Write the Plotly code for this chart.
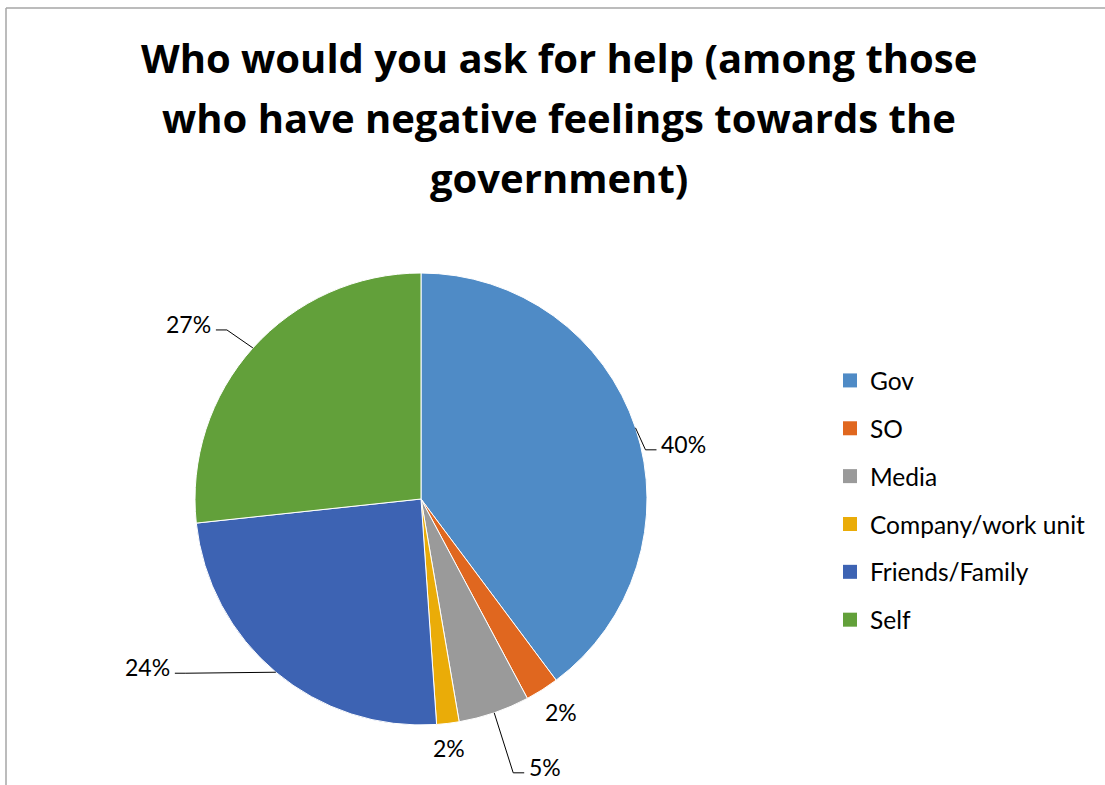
import math
import plotly.graph_objects as go

# ---- data ----
categories = ["Gov", "SO", "Media", "Company/work unit", "Friends/Family", "Self"]
values = [39.8, 2.4, 5.1, 1.6, 24.4, 26.7]
title_lines = ["Who would you ask for help (among those",
               "who have negative feelings towards the",
               "government)"]

# ---- style ----
colors = ["#4f8bc6", "#e0671f", "#9a9a9a", "#eaac08", "#3d63b3", "#62a03a"]
W, H = 1105, 785
FONT = "Lato"
TITLE_FONT = "Open Sans"
# pie geometry in pixels
CX, CY, R = 421, 499, 226
# label anchor offsets (px) from slice-edge midpoint, xanchor, leader line?
label_style = [
    (24, 16, "left", True),
    (19, 22, "center", False),
    (33, 54, "left", True),
    (1, 25, "center", False),
    (-104, -5, "right", True),
    (-40, -24, "right", True),
]


def px(x):
    return x / W


def py(y):
    return 1 - y / H


fig = go.Figure()
fig.add_trace(go.Pie(
    labels=categories, values=values, sort=False, direction="clockwise",
    rotation=0, textinfo="none", hoverinfo="label+percent",
    marker=dict(colors=colors, line=dict(color="white", width=1)),
    domain=dict(x=[px(CX - R), px(CX + R)], y=[py(CY + R), py(CY - R)]),
    showlegend=False,
))

# legend via dummy traces (for spacing control)
for i, (c, col) in enumerate(zip(categories, colors)):
    fig.add_trace(go.Scatter(
        x=[None], y=[None], mode="markers", name=c, legendgroup=c,
        marker=dict(symbol="square", size=14, color=col),
    ))

total = sum(values)
annotations = []
shapes = []
cum = 0.0
for v, (dx, dy, xa, line) in zip(values, label_style):
    mid = (cum + v / 2) / total * 2 * math.pi
    cum += v
    ex = CX + R * math.sin(mid)
    ey = CY - R * math.cos(mid)
    ax, ay = ex + dx, ey + dy
    pct = f"{round(v / total * 100)}%"
    annotations.append(dict(
        x=px(ax), y=py(ay), xref="paper", yref="paper", text=pct,
        showarrow=False, xanchor=xa, yanchor="middle",
        font=dict(family=FONT, size=23, color="#000000"),
    ))
    if line:
        sgn = 1 if xa == "left" else -1
        endx = ax - sgn * 3
        elbx = ax - sgn * 14
        ly = ay + 6
        path = f"M {px(ex)},{py(ey)} L {px(elbx)},{py(ly)} L {px(endx)},{py(ly)}"
        shapes.append(dict(type="path", path=path, xref="paper", yref="paper",
                           line=dict(color="#000000", width=1)))

title_y = [58, 118, 178]
for t, yy in zip(title_lines, title_y):
    annotations.append(dict(
        x=px(559), y=py(yy), xref="paper", yref="paper", text=f"<b>{t}</b>",
        showarrow=False, xanchor="center", yanchor="middle",
        font=dict(family=TITLE_FONT, size=40, color="#000000"),
    ))

# chart border (top and left)
shapes.append(dict(type="line", xref="paper", yref="paper",
                   x0=px(6), y0=py(8), x1=1, y1=py(8),
                   line=dict(color="#a6a6a6", width=1.5)))
shapes.append(dict(type="line", xref="paper", yref="paper",
                   x0=px(6), y0=py(8), x1=px(6), y1=0,
                   line=dict(color="#a6a6a6", width=1.5)))

fig.update_layout(
    width=W, height=H,
    margin=dict(l=0, r=0, t=0, b=0),
    paper_bgcolor="white", plot_bgcolor="white",
    xaxis=dict(visible=False, domain=[0.99, 1]),
    yaxis=dict(visible=False, domain=[0.99, 1]),
    legend=dict(x=px(830), y=py(358), xanchor="left", yanchor="top",
                font=dict(family=FONT, size=24.5, color="#000000"),
                tracegroupgap=13, traceorder="grouped",
                bgcolor="rgba(0,0,0,0)"),
    annotations=annotations, shapes=shapes,
    font=dict(family=FONT),
)

fig.write_html("out.html")
